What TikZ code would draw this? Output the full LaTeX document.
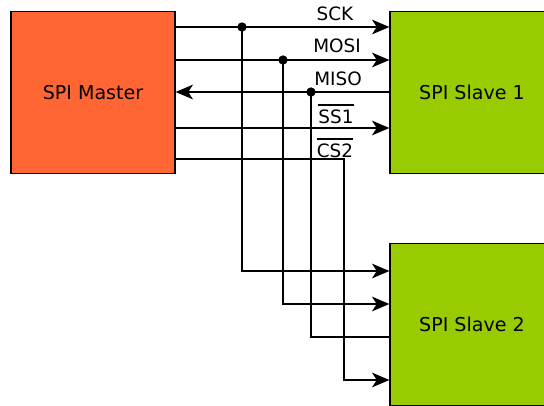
\documentclass[tikz,border=0pt]{standalone}
\usepackage{fontspec}
\setmainfont{DejaVu Sans}
\usepackage{tikz}
\usetikzlibrary{arrows.meta}
\definecolor{master}{HTML}{FF6633}
\definecolor{slave}{HTML}{99CC00}

\begin{document}
\begin{tikzpicture}[x=0.75pt,y=-0.75pt,
    box/.style={draw,line width=0.9pt,minimum width=123pt,minimum height=122pt,
      inner sep=0pt,font=\fontsize{14.3}{16}\selectfont},
    sig/.style={line width=1pt},
    tip/.style={-{Stealth[length=13pt,width=11pt,inset=3.5pt]}},
    lbl/.style={anchor=base,font=\fontsize{13.8}{16}\selectfont,inner sep=0pt},
    dot/.style={circle,fill,inner sep=0pt,minimum size=7pt}]
  \useasboundingbox (0,0) rectangle (544,405);
  \clip (0,0) rectangle (544,405);
  % the three devices
  \node[box,fill=master] (master) at (93,92.5) {SPI Master};
  \node[box,fill=slave] (slave1) at (472,92.5) {SPI Slave 1};
  \node[box,fill=slave] (slave2) at (472,324.5) {SPI Slave 2};
  % branch points and levels at slave 2
  \coordinate (dsck) at (242,27);
  \coordinate (dmosi) at (283,60);
  \coordinate (dmiso) at (311,92);
  \coordinate (ss1) at (0,128);
  \coordinate (cs2) at (344,159);
  \coordinate (sck2) at (0,271);
  \coordinate (mosi2) at (0,304);
  \coordinate (miso2) at (0,337);
  \coordinate (cs22) at (0,380);
  % bus to slave 1
  \draw[sig,tip] (master.east |- dsck) -- (slave1.west |- dsck);
  \draw[sig,tip] (master.east |- dmosi) -- (slave1.west |- dmosi);
  \draw[sig,tip] (slave1.west |- dmiso) -- (master.east |- dmiso);
  \draw[sig,tip] (master.east |- ss1) -- (slave1.west |- ss1);
  % bus to slave 2
  \draw[sig,tip] (dsck) |- (slave2.west |- sck2);
  \draw[sig,tip] (dmosi) |- (slave2.west |- mosi2);
  \draw[sig] (dmiso) |- (slave2.west |- miso2);
  \draw[sig,tip] (master.east |- cs2) -- (cs2) |- (slave2.west |- cs22);
  \foreach \d in {dsck,dmosi,dmiso} \node[dot] at (\d) {};
  % signal names
  \node[lbl] (lsck) at (335,20) {SCK};
  \node[lbl] (lmosi) at (337,52) {MOSI};
  \node[lbl] (lmiso) at (338,85) {MISO};
  \node[lbl] (lss1) at (336,123) {SS1};
  \node[lbl] (lcs2) at (335,157) {CS2};
  % active low bars
  \foreach \l in {lss1,lcs2}
    \draw[line width=1.8pt] ([yshift=3pt]\l.north west) -- ([yshift=3pt]\l.north east);
\end{tikzpicture}
\end{document}
